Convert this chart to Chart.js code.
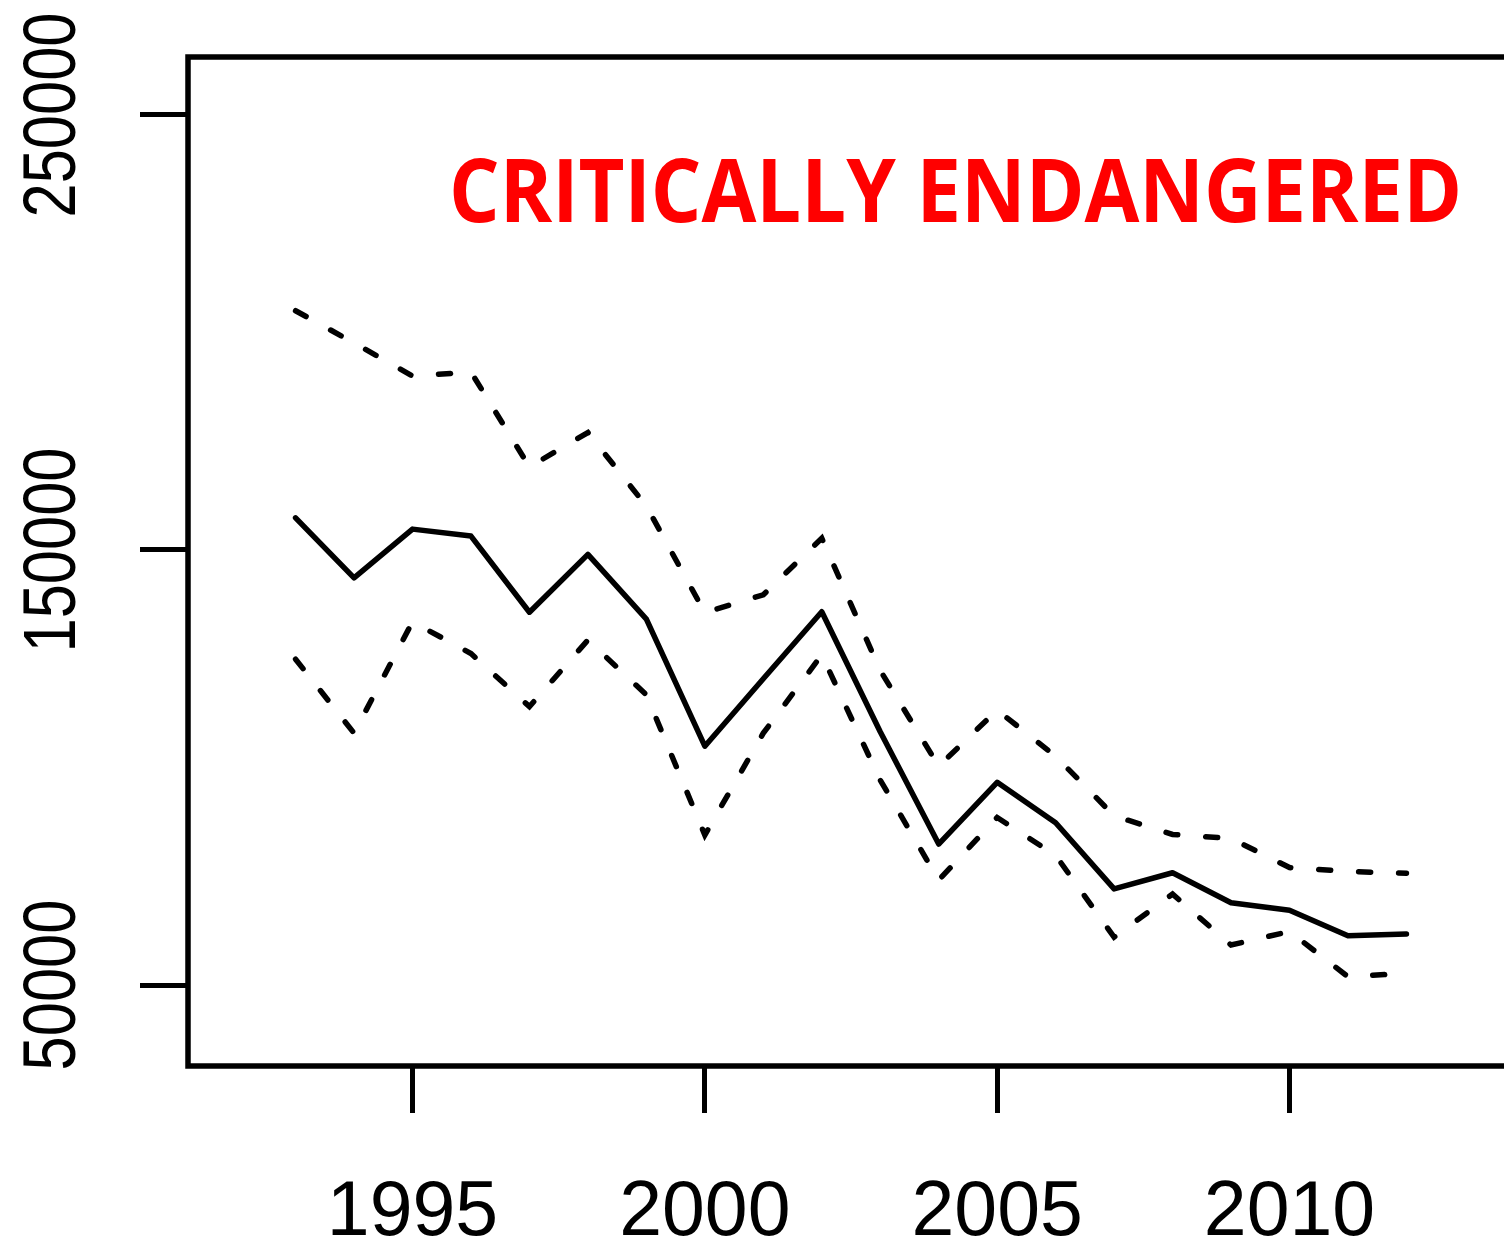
<!DOCTYPE html>
<html>
<head>
<meta charset="utf-8">
<script src="https://cdn.jsdelivr.net/npm/chart.js@4.4.1/dist/chart.umd.min.js"></script>
<style>
  html, body { margin: 0; padding: 0; overflow: hidden; background: #fff; }
  #wrap { width: 1530px; height: 1243px; }
</style>
</head>
<body>
<div id="wrap"><canvas id="chart" width="1530" height="1243"></canvas></div>
<script>
// values
const years = [1993, 1994, 1995, 1996, 1997, 1998, 1999, 2000, 2001, 2002,
               2003, 2004, 2005, 2006, 2007, 2008, 2009, 2010, 2011, 2012];
const estimate = [157400, 143600, 154800, 153200, 135700, 149000, 134100, 104900, 120400, 135800,
                  108200, 82400, 96600, 87300, 72100, 75800, 68900, 67200, 61300, 61700];
const upper = [205000, 197600, 190000, 190900, 169100, 177000, 160100, 135600, 139700, 152700,
               122300, 100300, 113200, 102600, 88900, 84600, 83700, 77000, 76100, 75700];
const lower = [124900, 107900, 133500, 126200, 114000, 129300, 116700, 84500, 107900, 125900,
               97100, 74100, 88500, 79800, 61000, 70900, 59200, 62300, 51900, 52700];

const xTicks = [1995, 2000, 2005, 2010];
const yTicks = [50000, 150000, 250000];
const statusLabel = 'CRITICALLY ENDANGERED';

function toPoints(values) {
    return years.map((yr, i) => ({ x: yr, y: values[i] }));
}

// R-style box around the plot region
const boxPlugin = {
    id: 'rbox',
    afterDraw(chart) {
        const { ctx, chartArea: a } = chart;
        ctx.save();
        ctx.strokeStyle = '#000';
        ctx.lineWidth = 5.5;
        ctx.strokeRect(a.left, a.top, a.right - a.left, a.bottom - a.top);
        ctx.restore();
    }
};

// y labels run bottom-to-top like R's default, a bit narrower than the x ones
const yLabelPlugin = {
    id: 'ylabels',
    afterDraw(chart) {
        const ctx = chart.ctx;
        const scale = chart.scales.y;
        ctx.save();
        ctx.font = '74px "Liberation Sans", Arial, sans-serif';
        ctx.fillStyle = '#000';
        ctx.textAlign = 'center';
        ctx.textBaseline = 'alphabetic';
        scale.ticks.forEach(t => {
            const y = scale.getPixelForValue(t.value);
            ctx.save();
            ctx.translate(75, y);
            ctx.rotate(-Math.PI / 2);
            ctx.scale(0.83, 1);
            ctx.fillText(String(t.value), 0, 0);
            ctx.restore();
        });
        ctx.restore();
    }
};

// red status label inside the plot
const statusPlugin = {
    id: 'status',
    afterDraw(chart) {
        const ctx = chart.ctx;
        ctx.save();
        ctx.font = 'bold 87px "Open Sans"';
        ctx.fillStyle = '#ff0000';
        ctx.textBaseline = 'alphabetic';
        const w = ctx.measureText(statusLabel).width;
        ctx.translate(449, 222);
        ctx.scale(1013 / w, 1);
        ctx.fillText(statusLabel, 0, 0);
        ctx.restore();
    }
};

const lineStyle = { borderColor: '#000', borderWidth: 5.5, pointRadius: 0, tension: 0, fill: false };
const dashStyle = { borderDash: [12, 28], borderCapStyle: 'round' };

new Chart(document.getElementById('chart'), {
    type: 'line',
    data: {
        datasets: [
            { label: 'estimate', data: toPoints(estimate), ...lineStyle, borderCapStyle: 'round', borderJoinStyle: 'round' },
            { label: 'upper', data: toPoints(upper), ...lineStyle, ...dashStyle },
            { label: 'lower', data: toPoints(lower), ...lineStyle, ...dashStyle },
        ],
    },
    options: {
        responsive: false,
        animation: false,
        devicePixelRatio: 1,
        layout: { padding: { top: 57, right: 16, left: 0, bottom: 0 } },
        plugins: { legend: { display: false }, tooltip: { enabled: false } },
        scales: {
            x: {
                type: 'linear',
                min: 1991.16,
                max: 2013.84,
                afterBuildTicks: s => { s.ticks = xTicks.map(v => ({ value: v })); },
                afterFit: s => { s.height = 177; },
                border: { display: false },
                grid: { drawOnChartArea: false, drawTicks: true, tickLength: 47, tickWidth: 5, tickColor: '#000' },
                ticks: {
                    autoSkip: false, maxRotation: 0, padding: 55, color: '#000',
                    font: { family: '"Liberation Sans", Arial, sans-serif', size: 77 },
                    callback: v => String(v),
                },
            },
            y: {
                type: 'linear',
                min: 31380,
                max: 263330,
                afterBuildTicks: s => { s.ticks = yTicks.map(v => ({ value: v })); },
                afterFit: s => { s.width = 188; },
                border: { display: false },
                grid: { drawOnChartArea: false, drawTicks: true, tickLength: 48, tickWidth: 5, tickColor: '#000' },
                ticks: { display: false },
            },
        },
    },
    plugins: [boxPlugin, yLabelPlugin, statusPlugin],
});
</script>
</body>
</html>
